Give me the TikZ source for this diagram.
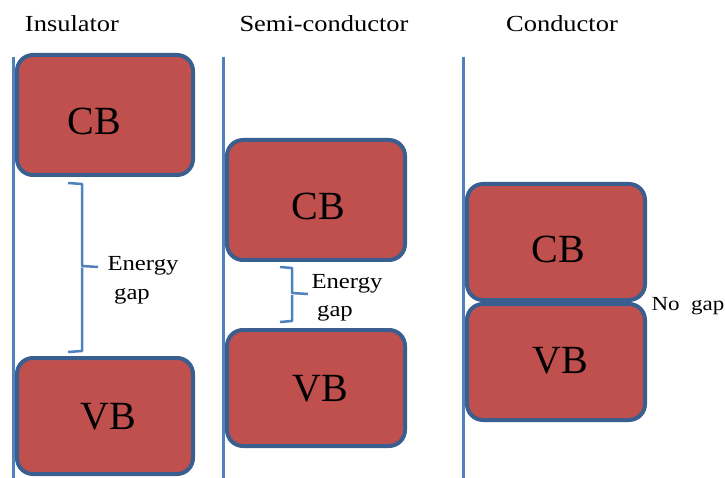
\documentclass[tikz,border=0pt]{standalone}
\usepackage{fontspec}
\setmainfont{Liberation Serif}
\newfontfamily\widefont[FakeStretch=1.15]{Liberation Serif}
\definecolor{bandfill}{HTML}{C0504D}
\definecolor{bandedge}{HTML}{3A5F8E}
\definecolor{axisblue}{HTML}{4F81BD}
\begin{document}
\begin{tikzpicture}[x=1pt,y=-1pt,
  band/.style={draw=bandedge,fill=bandfill,line width=4pt,rounded corners=16pt},
  axis/.style={draw=axisblue,line width=3pt},
  brace/.style={draw=axisblue,line width=2.5pt,line join=round},
  bandlabel/.style={font=\fontsize{40}{44}\selectfont,inner sep=0pt},
  title/.style={font=\widefont\fontsize{23}{26}\selectfont,inner sep=0pt},
  small/.style={font=\widefont\fontsize{21.5}{24}\selectfont,inner sep=0pt,align=left}]
\useasboundingbox (0,0) rectangle (725,478);
% axes
\coordinate (a1t) at (13,57); \coordinate (a1b) at (13,478);
\coordinate (a2t) at (223,57); \coordinate (a2b) at (223,478);
\coordinate (a3t) at (463,57); \coordinate (a3b) at (463,478);
\draw[axis] (a1t) -- (a1b);
\draw[axis] (a2t) -- (a2b);
\draw[axis] (a3t) -- (a3b);
% titles
\node[title] (t1) at (72,24) {Insulator};
\node[title] (t2) at (324,24) {Semi-conductor};
\node[title] (t3) at (562,24) {Conductor};
% insulator bands
\draw[band] (17,55) rectangle (193,175);
\draw[band] (17,358) rectangle (193,474);
\node[bandlabel] (icb) at (94,121) {CB};
\node[bandlabel] (ivb) at (108,417) {VB};
% semiconductor bands
\draw[band] (227,140) rectangle (405,260);
\draw[band] (227,330) rectangle (405,446);
\node[bandlabel] (scb) at (318,206) {CB};
\node[bandlabel] (svb) at (320,389) {VB};
% conductor bands
\draw[band] (467,184) rectangle (645,300);
\draw[band] (467,304) rectangle (645,420);
\node[bandlabel] (ccb) at (558,249) {CB};
\node[bandlabel] (cvb) at (560,361) {VB};
% braces
\draw[brace] (68,183) -- (82,184) -- (82,266) -- (98,267) (82,268) -- (82,351) -- (68,352);
\draw[brace] (280,267) -- (292,268) -- (292,293) -- (308,294) (292,295) -- (292,321) -- (280,322);
% gap labels
\node[small] (ieg) at (143,266) {Energy};
\node[small] (igap) at (132,296) {gap};
\node[small] (seg) at (347,284) {Energy};
\node[small] (sgap) at (335,313) {gap};
\node[small,font=\widefont\fontsize{20}{24}\selectfont] (nogap) at (688,306) {No\ \ gap};
\end{tikzpicture}
\end{document}
